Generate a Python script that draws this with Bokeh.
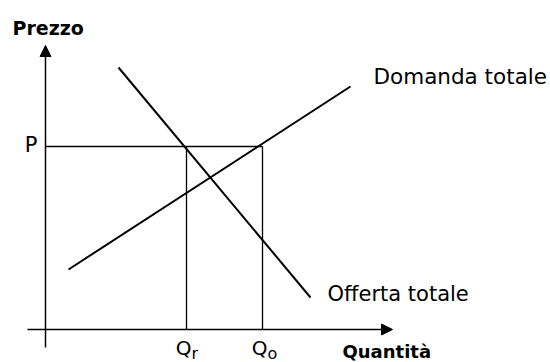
from bokeh.plotting import figure
from bokeh.models import Range1d, Arrow, NormalHead, Label
from bokeh.embed import file_html
from bokeh.resources import INLINE

# --- chart data (quantity / price units) ---
offerta_q = [7.3, 26.5]
offerta_p = [26.2, 3.2]
domanda_q = [2.3, 30.5]
domanda_p = [6.0, 24.3]
P = 18.3
Qr = 14.1
Qo = 21.7
q_axis = [-1.8, 34.7]
p_axis = [-1.8, 28.4]

p = figure(width=550, height=362, x_range=Range1d(-4.5, 50.5), y_range=Range1d(-3.3, 32.9),
           output_backend="svg", toolbar_location=None, x_axis_type=None, y_axis_type=None,
           min_border=0, outline_line_color=None, background_fill_color="white")
p.grid.visible = False

# axes with arrow heads
p.add_layout(Arrow(end=NormalHead(size=11, fill_color="black", line_color="black", line_width=1),
                   x_start=q_axis[0], y_start=0, x_end=q_axis[1], y_end=0,
                   line_width=1.5, line_color="black"))
p.add_layout(Arrow(end=NormalHead(size=11, fill_color="black", line_color="black", line_width=1),
                   x_start=0, y_start=p_axis[0], x_end=0, y_end=p_axis[1],
                   line_width=1.5, line_color="black"))

# guide lines
p.segment(x0=[0, Qr, Qo], y0=[P, 0, 0], x1=[Qo, Qr, Qo], y1=[P, P, P],
          line_color="black", line_width=1.3)

# curves
p.line(offerta_q, offerta_p, line_color="black", line_width=2)
p.line(domanda_q, domanda_p, line_color="black", line_width=2)

F = "DejaVu Sans"
p.add_layout(Label(x=0, y=p_axis[1], x_offset=-33, y_offset=18, text="Prezzo",
                   text_font=F, text_font_style="bold", text_font_size="19px",
                   text_align="left", text_baseline="middle", text_color="black"))
p.add_layout(Label(x=0, y=P, x_offset=-8, y_offset=2, text="P",
                   text_font=F, text_font_size="21px",
                   text_align="right", text_baseline="middle", text_color="black"))
p.add_layout(Label(x=domanda_q[1], y=domanda_p[1], x_offset=23, y_offset=10, text="Domanda totale",
                   text_font=F, text_font_size="21.5px",
                   text_align="left", text_baseline="middle", text_color="black"))
p.add_layout(Label(x=offerta_q[1], y=offerta_p[1], x_offset=17, y_offset=4, text="Offerta totale",
                   text_font=F, text_font_size="21px",
                   text_align="left", text_baseline="middle", text_color="black"))
for qx, sub in [(Qr, "r"), (Qo, "o")]:
    p.add_layout(Label(x=qx, y=0, x_offset=5, y_offset=-18.5, text="Q",
                       text_font=F, text_font_size="20px",
                       text_align="right", text_baseline="middle", text_color="black"))
    p.add_layout(Label(x=qx, y=0, x_offset=5, y_offset=-24, text=sub,
                       text_font=F, text_font_size="16px",
                       text_align="left", text_baseline="middle", text_color="black"))
p.add_layout(Label(x=q_axis[1], y=0, x_offset=-50, y_offset=-22, text="Quantità",
                   text_font=F, text_font_style="bold", text_font_size="18px",
                   text_align="left", text_baseline="middle", text_color="black"))

open("out.html", "w").write(file_html(p, INLINE))
